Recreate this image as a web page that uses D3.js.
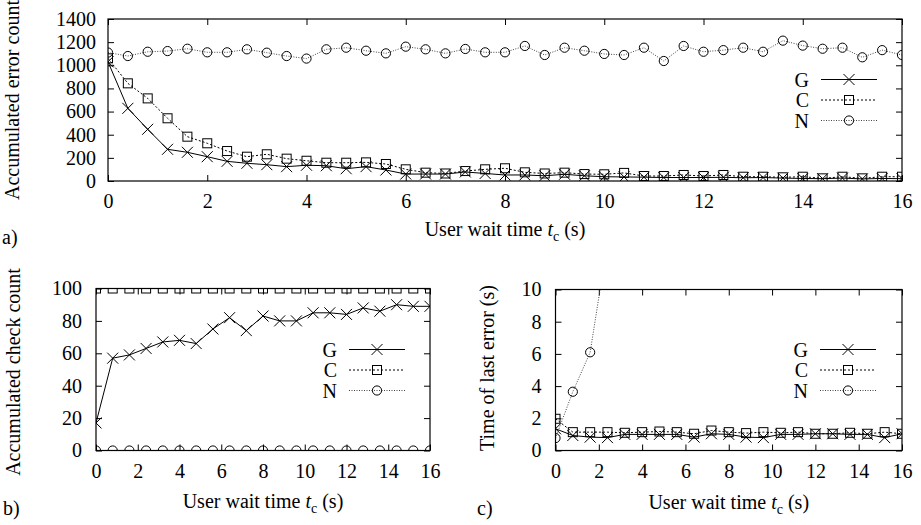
<!DOCTYPE html>
<html>

<head>
    <meta charset='utf-8' />
    <title>User wait time</title>
    <script src="https://cdn.jsdelivr.net/npm/d3@7"></script>
    <style>
        body {
            margin: 0;
            padding: 0;
            background: #fff;
        }

        #chart,
        #chart text,
        #chart tspan {
            font-family: "Liberation Serif", "Times New Roman", "DejaVu Serif", serif !important;
        }

        #chart text {
            font-size: 20px;
            fill: #000;
        }

        .frame {
            fill: none;
            stroke: #000;
            stroke-width: 1.2;
        }

        .tick line {
            stroke: #000;
        }
    </style>
</head>

<body>
    <svg id="chart" width="921" height="525"></svg>
    <script>
        // a) accumulated error count, sampled every 0.4 s
        var xA = [0, 0.4, 0.8, 1.2, 1.6, 2.0, 2.4, 2.8, 3.2, 3.6, 4.0, 4.4, 4.8, 5.2, 5.6, 6.0, 6.4, 6.8, 7.2, 7.6,
            8.0, 8.4, 8.8, 9.2, 9.6, 10.0, 10.4, 10.8, 11.2, 11.6, 12.0, 12.4, 12.8, 13.2, 13.6, 14.0, 14.4, 14.8, 15.2, 15.6, 16.0];
        var gA = [1030, 628, 447, 274, 248, 210, 170, 153, 141, 124, 136, 132, 106, 124, 95, 60, 60, 60, 78, 65,
            52, 52, 45, 58, 45, 37, 35, 33, 30, 30, 30, 32, 28, 30, 25, 22, 20, 25, 18, 22, 20];
        var cA = [1060, 844, 714, 542, 383, 326, 259, 210, 231, 193, 175, 158, 158, 161, 147, 101, 72, 65, 86, 101,
            110, 75, 65, 72, 60, 58, 70, 43, 43, 52, 43, 52, 37, 37, 32, 37, 23, 37, 23, 37, 37];
        var nA = [1110, 1080, 1117, 1123, 1143, 1112, 1112, 1138, 1109, 1080, 1058, 1138, 1152, 1126, 1103, 1161, 1138, 1103, 1141, 1112,
            1112, 1167, 1089, 1152, 1126, 1098, 1089, 1152, 1037, 1167, 1117, 1131, 1152, 1117, 1213, 1170, 1143, 1152, 1069, 1131, 1089];

        // b) and c), sampled every 0.8 s
        var xB = [0, 0.8, 1.6, 2.4, 3.2, 4.0, 4.8, 5.6, 6.4, 7.2, 8.0, 8.8, 9.6, 10.4, 11.2, 12.0, 12.8, 13.6, 14.4, 15.2, 16.0];
        var gB = [17, 57, 59, 63, 67, 68, 66, 75, 82, 74, 83, 80, 80, 85, 85, 84, 88, 86, 90, 89, 89];
        var cB = [100, 100, 100, 100, 100, 100, 100, 100, 100, 100, 100, 100, 100, 100, 100, 100, 100, 100, 100, 100, 100];
        var nB = [0, 0, 0, 0, 0, 0, 0, 0, 0, 0, 0, 0, 0, 0, 0, 0, 0, 0, 0, 0, 0];

        var gC = [1.35, 0.93, 0.83, 0.8, 1.0, 1.0, 1.0, 1.0, 0.83, 1.04, 1.0, 0.83, 0.8, 1.0, 1.0, 1.04, 1.04, 1.0, 1.0, 0.8, 1.04];
        var cC = [1.97, 1.14, 1.14, 1.14, 1.1, 1.14, 1.18, 1.14, 1.04, 1.24, 1.14, 1.08, 1.14, 1.1, 1.14, 1.04, 1.04, 1.1, 1.04, 1.14, 1.04];
        var nC = [0.77, 3.65, 6.1, 12.9]; // rest is far above the top of panel c

        var xTicks = [0, 2, 4, 6, 8, 10, 12, 14, 16];
        var yTicksA = [0, 200, 400, 600, 800, 1000, 1200, 1400];
        var yTicksB = [0, 20, 40, 60, 80, 100];
        var yTicksC = [0, 2, 4, 6, 8, 10];

        var seriesNames = ['G', 'C', 'N'];

        var svg = d3.select('#chart');
        var styles = {
            G: { dash: null, color: '#000', mark: 'cross' },
            C: { dash: '2,2', color: '#000', mark: 'square' },
            N: { dash: '1,1.5', color: '#444', mark: 'circle' }
        };

        function zip(xs, ys) {
            return ys.map(function (v, i) { return [xs[i], v]; });
        }

        function drawMark(sel, type) {
            if (type == 'cross') {
                sel.append('path').attr('d', 'M-5.5,-5.5L5.5,5.5M-5.5,5.5L5.5,-5.5');
            } else if (type == 'square') {
                sel.append('rect').attr('x', -4.5).attr('y', -4.5).attr('width', 9).attr('height', 9);
            } else {
                sel.append('circle').attr('r', 4.6);
            }
        }

        function subLabel(g, x, y) {
            var t = g.append('text').attr('x', x).attr('y', y).attr('text-anchor', 'middle');
            t.append('tspan').text('User wait time ');
            t.append('tspan').attr('font-style', 'italic').text('t');
            t.append('tspan').attr('dy', 5).style('font-size', '14px').text('c');
            t.append('tspan').attr('dy', -5).text(' (s)');
        }

        // d3 axes put a sans-serif font on their group, take it off again
        function cleanAxis(a, keepText) {
            a.attr('font-family', null).attr('font-size', null);
            a.select('.domain').remove();
            if (!keepText) a.selectAll('text').remove();
        }

        function drawPanel(p) {
            var x = d3.scaleLinear().domain([0, 16]).range([p.left, p.right]);
            var y = d3.scaleLinear().domain(p.yDomain).range([p.bottom, p.top]);
            var g = svg.append('g');

            g.append('clipPath').attr('id', 'clip' + p.id)
                .append('rect')
                .attr('x', p.left).attr('y', p.top)
                .attr('width', p.right - p.left).attr('height', p.bottom - p.top);

            // ticks on all four sides, pointing inward
            g.append('g').attr('transform', 'translate(0,' + p.bottom + ')')
                .call(d3.axisBottom(x).tickValues(xTicks).tickFormat(d3.format('d')).tickSizeInner(-6).tickSizeOuter(0).tickPadding(13))
                .call(cleanAxis, true);
            g.append('g').attr('transform', 'translate(0,' + p.top + ')')
                .call(d3.axisTop(x).tickValues(xTicks).tickSizeInner(-6).tickSizeOuter(0))
                .call(cleanAxis, false);
            g.append('g').attr('transform', 'translate(' + p.left + ',0)')
                .call(d3.axisLeft(y).tickValues(p.yTicks).tickFormat(d3.format('d')).tickSizeInner(-6).tickSizeOuter(0).tickPadding(p.yPad))
                .call(cleanAxis, true);
            g.append('g').attr('transform', 'translate(' + p.right + ',0)')
                .call(d3.axisRight(y).tickValues(p.yTicks).tickSizeInner(-6).tickSizeOuter(0))
                .call(cleanAxis, false);

            var plot = g.append('g').attr('clip-path', 'url(#clip' + p.id + ')');
            var line = d3.line().x(function (d) { return x(d[0]); }).y(function (d) { return y(d[1]); });

            p.series.forEach(function (s, i) {
                var st = styles[seriesNames[i]];
                var pts = zip(p.xs, s);
                plot.append('path').datum(pts)
                    .attr('d', line)
                    .attr('fill', 'none')
                    .attr('stroke', st.color)
                    .attr('stroke-width', 1)
                    .attr('stroke-dasharray', st.dash);
                plot.selectAll('.m' + i).data(pts).enter().append('g')
                    .attr('transform', function (d) { return 'translate(' + x(d[0]) + ',' + y(d[1]) + ')'; })
                    .attr('fill', 'none').attr('stroke', '#000').attr('stroke-width', 1)
                    .each(function () { drawMark(d3.select(this), st.mark); });
            });

            g.append('rect').attr('class', 'frame')
                .attr('x', p.left).attr('y', p.top)
                .attr('width', p.right - p.left).attr('height', p.bottom - p.top);

            // legend
            seriesNames.forEach(function (n, i) {
                var st = styles[n];
                var ly = p.legY + i * 20.5;
                g.append('text').attr('x', p.legX).attr('y', ly + 7).attr('text-anchor', 'end').text(n);
                g.append('line')
                    .attr('x1', p.legX + 12).attr('x2', p.legX + 68)
                    .attr('y1', ly).attr('y2', ly)
                    .attr('stroke', st.color).attr('stroke-width', 1).attr('stroke-dasharray', st.dash);
                var m = g.append('g').attr('transform', 'translate(' + (p.legX + 40) + ',' + ly + ')')
                    .attr('fill', 'none').attr('stroke', '#000').attr('stroke-width', 1);
                drawMark(m, st.mark);
            });

            g.append('text')
                .attr('transform', 'translate(' + p.yLabX + ',' + p.yLabY + ') rotate(-90)')
                .attr('text-anchor', 'middle')
                .text(p.yLabel);
            subLabel(g, (p.left + p.right) / 2, p.xLabY);
            g.append('text').attr('x', p.tagX).attr('y', p.tagY).text(p.tag);
        }

        drawPanel({
            id: 'a', left: 108, right: 902, top: 19, bottom: 181,
            yDomain: [0, 1400], yTicks: yTicksA, yPad: 12,
            xs: xA, series: [gA, cA, nA],
            legX: 809, legY: 79.5,
            yLabel: 'Accumulated error count', yLabX: 18.5, yLabY: 100,
            xLabY: 236, tag: 'a)', tagX: 2, tagY: 244
        });

        drawPanel({
            id: 'b', left: 96, right: 430, top: 288.5, bottom: 450.5,
            yDomain: [0, 100], yTicks: yTicksB, yPad: 14,
            xs: xB, series: [gB, cB, nB],
            legX: 337, legY: 349.5,
            yLabel: 'Accumulated check count', yLabX: 20, yLabY: 372,
            xLabY: 508, tag: 'b)', tagX: 3, tagY: 515
        });

        drawPanel({
            id: 'c', left: 555.5, right: 902, top: 289.5, bottom: 450.5,
            yDomain: [0, 10], yTicks: yTicksC, yPad: 14,
            xs: xB, series: [gC, cC, nC],
            legX: 808, legY: 349.5,
            yLabel: 'Time of last error (s)', yLabX: 494, yLabY: 368,
            xLabY: 509, tag: 'c)', tagX: 477, tagY: 515
        });
    </script>

</body>

</html>
